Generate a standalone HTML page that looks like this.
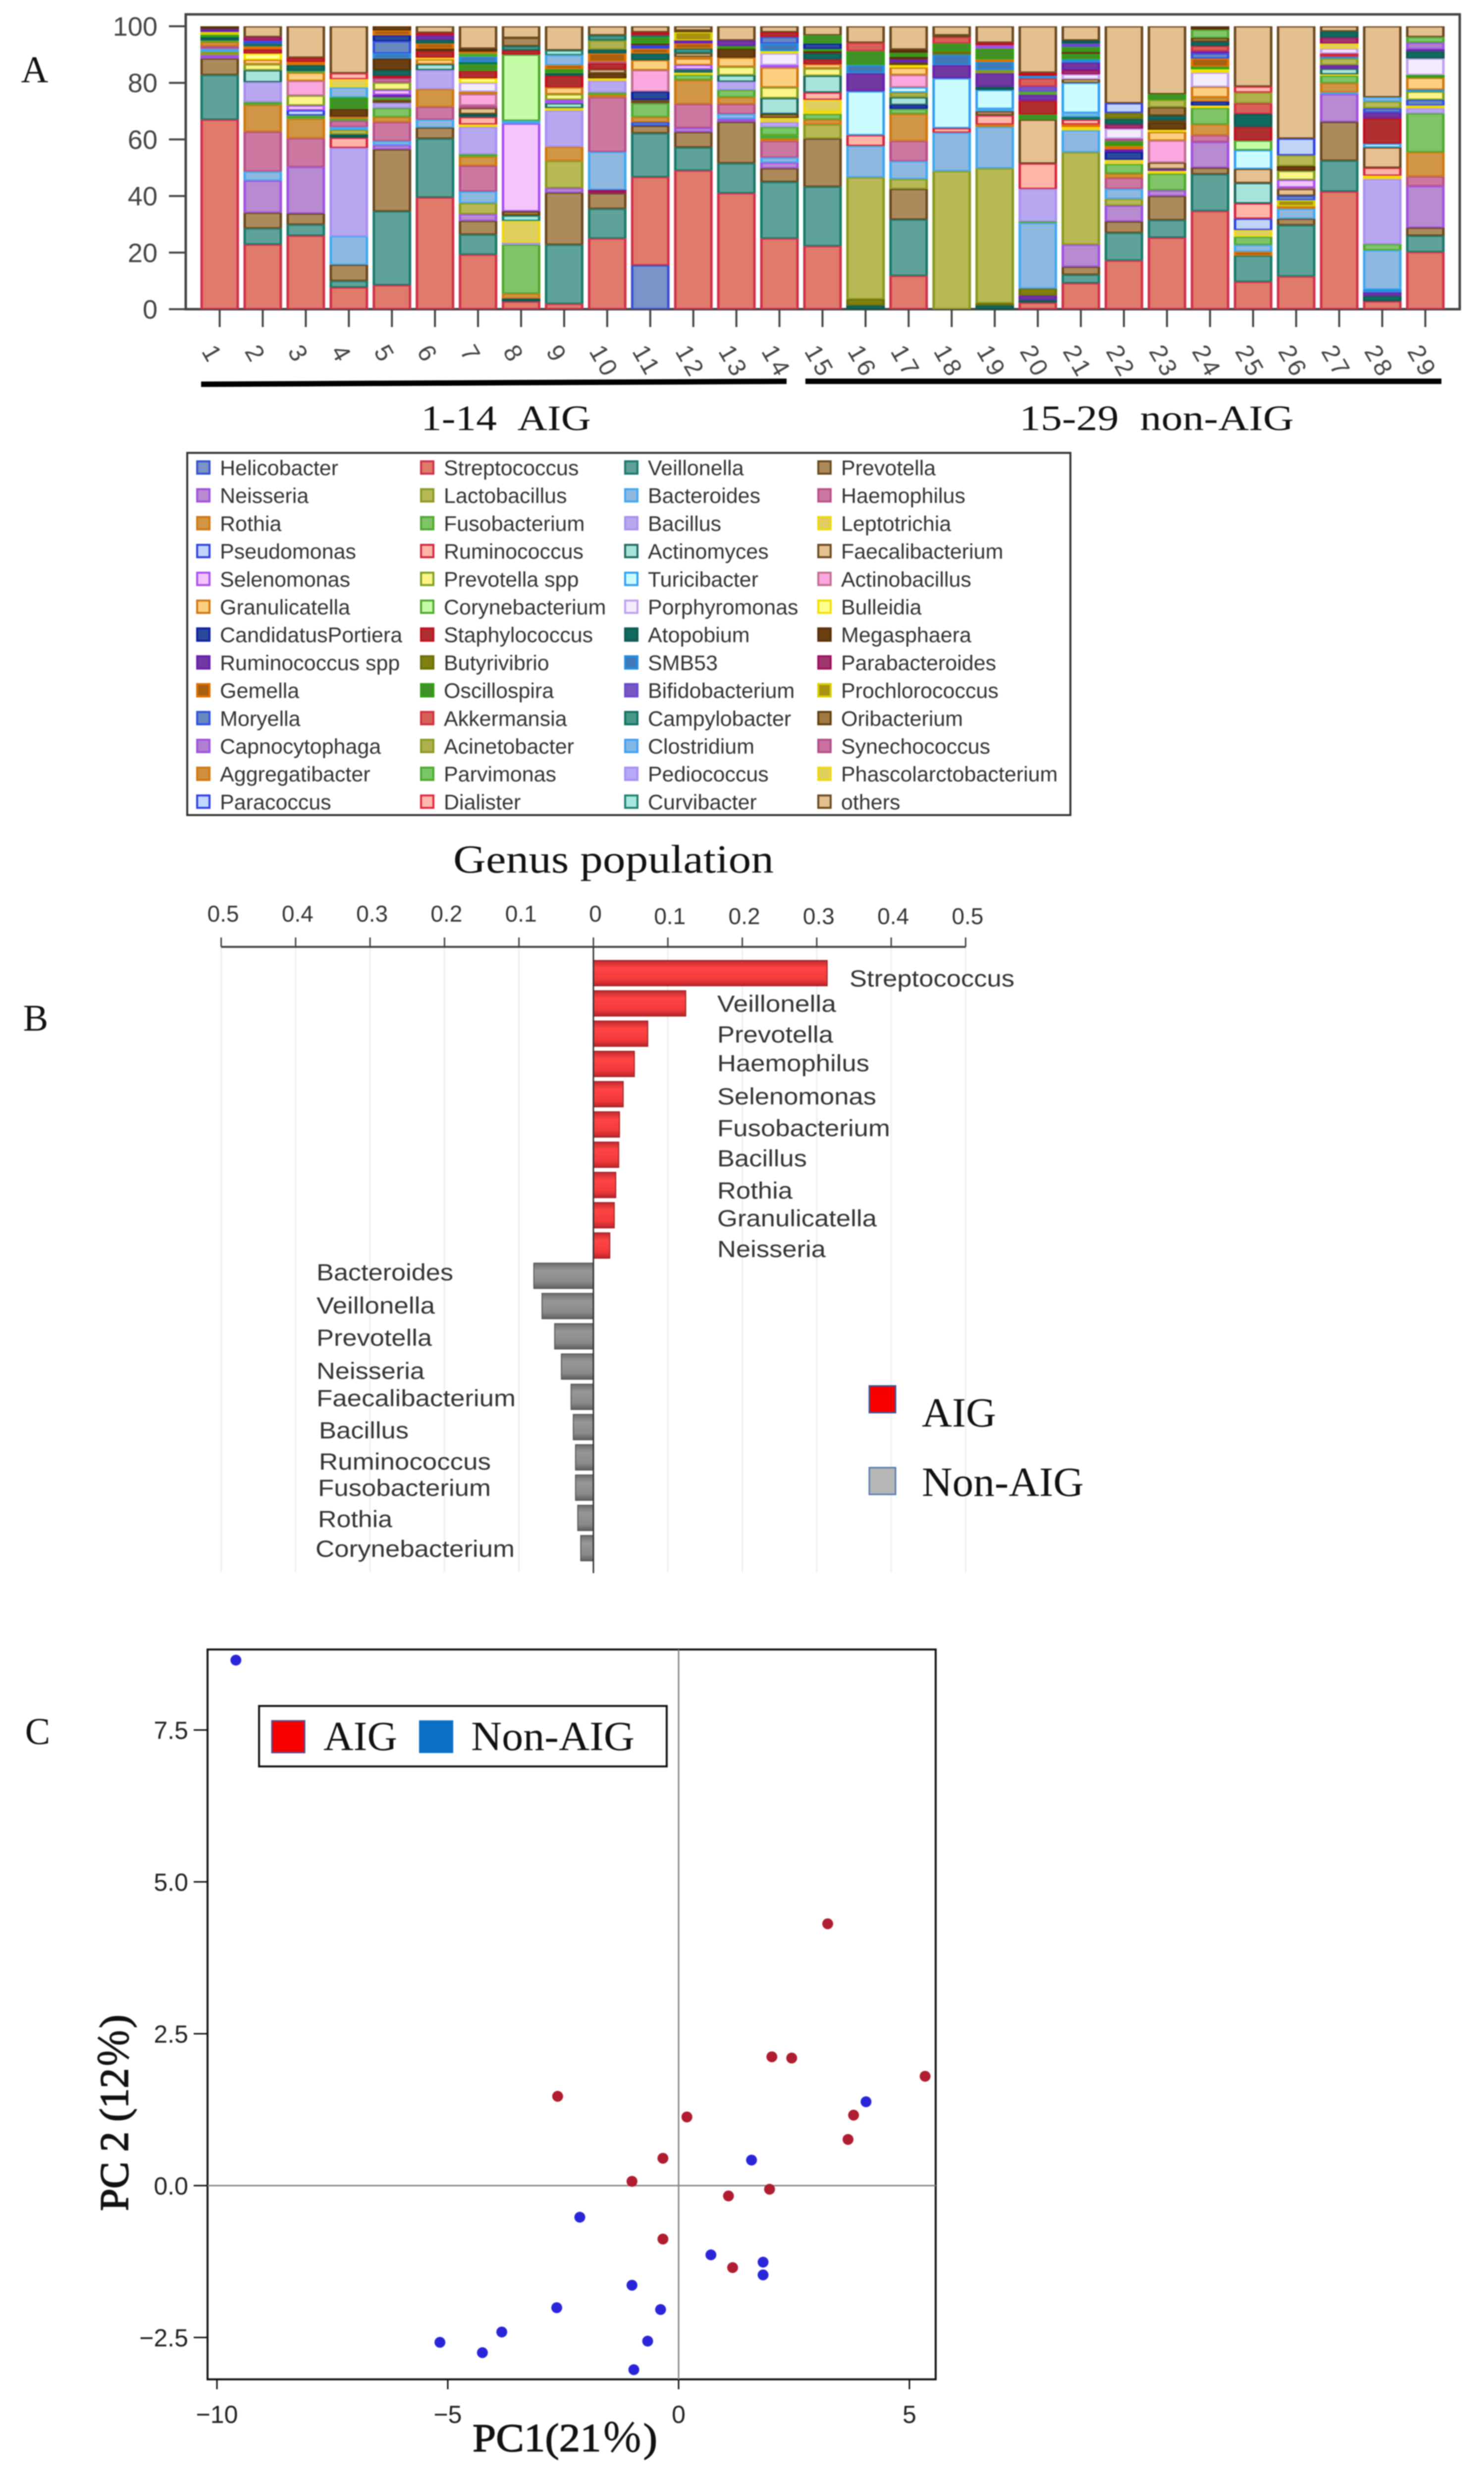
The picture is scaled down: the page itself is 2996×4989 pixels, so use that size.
<!DOCTYPE html>
<html lang="en">
<head>
<meta charset="utf-8">
<title>Genus population, PCA and LDA panels</title>
<style>
html,body{margin:0;padding:0;background:#fff;}
svg{display:block;filter:blur(1px);}
.sans{font-family:"Liberation Sans","Noto Sans CJK JP",sans-serif;}
.serif{font-family:"Liberation Serif","Noto Serif CJK JP",serif;}
</style>
</head>
<body>
<svg id="figure" xmlns="http://www.w3.org/2000/svg" width="2996" height="4989" viewBox="0 0 2996 4989">
  <defs>
    <linearGradient id="redBar" x1="0" y1="0" x2="0" y2="1">
      <stop offset="0" stop-color="#c22a2e"/><stop offset="0.3" stop-color="#ff4444"/><stop offset="0.75" stop-color="#f23a3c"/><stop offset="1" stop-color="#b82428"/>
    </linearGradient>
    <linearGradient id="greyBar" x1="0" y1="0" x2="0" y2="1">
      <stop offset="0" stop-color="#6e6e6e"/><stop offset="0.3" stop-color="#979797"/><stop offset="0.75" stop-color="#8a8a8a"/><stop offset="1" stop-color="#606060"/>
    </linearGradient>
  </defs>
  <rect width="2996" height="4989" fill="#fff"/>

  <text class="serif" x="70" y="166" font-size="76" text-anchor="middle" fill="#111">A</text>
  <text class="serif" x="72" y="2080" font-size="76" text-anchor="middle" fill="#111">B</text>
  <text class="serif" x="76" y="3520" font-size="76" text-anchor="middle" fill="#111">C</text>

  <!-- Panel A -->
  <g id="panelA"></g>
  <polygon points="406,770 1588,764 1588,775 406,781" fill="#000"/>
  <rect x="1626" y="764" width="1284" height="11" fill="#000"/>
  <text class="serif" x="850" y="868" font-size="72" textLength="343" lengthAdjust="spacingAndGlyphs" fill="#111">1-14&#160;&#160;AIG</text>
  <text class="serif" x="2058" y="868" font-size="72" textLength="554" lengthAdjust="spacingAndGlyphs" fill="#111">15-29&#160;&#160;non-AIG</text>

  <rect x="378" y="914" width="1783" height="731" fill="#fff" stroke="#333" stroke-width="4"/>
  <g id="legendA"></g>
  <text class="serif" x="915" y="1761" font-size="80" textLength="647" lengthAdjust="spacingAndGlyphs" fill="#111">Genus population</text>

  <!-- Panel B -->
  <g id="panelB"></g>
  <g class="sans" font-size="47" fill="#333" lengthAdjust="spacingAndGlyphs">
    <text x="1715" y="1991" textLength="333" lengthAdjust="spacingAndGlyphs">Streptococcus</text>
    <text x="1448" y="2042" textLength="240" lengthAdjust="spacingAndGlyphs">Veillonella</text>
    <text x="1448" y="2104" textLength="234" lengthAdjust="spacingAndGlyphs">Prevotella</text>
    <text x="1448" y="2162" textLength="307" lengthAdjust="spacingAndGlyphs">Haemophilus</text>
    <text x="1448" y="2229" textLength="321" lengthAdjust="spacingAndGlyphs">Selenomonas</text>
    <text x="1448" y="2293" textLength="349" lengthAdjust="spacingAndGlyphs">Fusobacterium</text>
    <text x="1448" y="2354" textLength="181" lengthAdjust="spacingAndGlyphs">Bacillus</text>
    <text x="1448" y="2419" textLength="152" lengthAdjust="spacingAndGlyphs">Rothia</text>
    <text x="1448" y="2475" textLength="322" lengthAdjust="spacingAndGlyphs">Granulicatella</text>
    <text x="1448" y="2537" textLength="219" lengthAdjust="spacingAndGlyphs">Neisseria</text>
  </g>
  <g class="sans" font-size="47" fill="#333">
    <text x="639" y="2584" textLength="276" lengthAdjust="spacingAndGlyphs">Bacteroides</text>
    <text x="639" y="2651" textLength="239" lengthAdjust="spacingAndGlyphs">Veillonella</text>
    <text x="639" y="2716" textLength="233" lengthAdjust="spacingAndGlyphs">Prevotella</text>
    <text x="639" y="2783" textLength="218" lengthAdjust="spacingAndGlyphs">Neisseria</text>
    <text x="639" y="2838" textLength="402" lengthAdjust="spacingAndGlyphs">Faecalibacterium</text>
    <text x="644" y="2903" textLength="181" lengthAdjust="spacingAndGlyphs">Bacillus</text>
    <text x="644" y="2966" textLength="347" lengthAdjust="spacingAndGlyphs">Ruminococcus</text>
    <text x="642" y="3019" textLength="349" lengthAdjust="spacingAndGlyphs">Fusobacterium</text>
    <text x="642" y="3082" textLength="150" lengthAdjust="spacingAndGlyphs">Rothia</text>
    <text x="637" y="3142" textLength="402" lengthAdjust="spacingAndGlyphs">Corynebacterium</text>
  </g>
  <rect x="1755" y="2797" width="53" height="54" fill="#f80000" stroke="#3a5a9a" stroke-width="3"/>
  <text class="serif" x="1861" y="2879" font-size="84" textLength="150" lengthAdjust="spacingAndGlyphs" fill="#111">AIG</text>
  <rect x="1755" y="2962" width="53" height="54" fill="#b6b6b6" stroke="#5a7ab0" stroke-width="3"/>
  <text class="serif" x="1861" y="3019" font-size="84" textLength="327" lengthAdjust="spacingAndGlyphs" fill="#111">Non-AIG</text>

  <!-- Panel C -->
  <g id="panelC"></g>
  <rect x="523" y="3443" width="823" height="122" fill="#fff" stroke="#111" stroke-width="4"/>
  <rect x="549" y="3473" width="66" height="64" fill="#f80000" stroke="#5a4a8a" stroke-width="3"/>
  <text class="serif" x="653" y="3532" font-size="84" textLength="149" lengthAdjust="spacingAndGlyphs" fill="#111">AIG</text>
  <rect x="846" y="3472" width="69" height="66" fill="#0a70c8"/>
  <text class="serif" x="951" y="3532" font-size="84" textLength="330" lengthAdjust="spacingAndGlyphs" fill="#111">Non-AIG</text>
  <text class="serif" x="954" y="4947" font-size="80" textLength="373" lengthAdjust="spacingAndGlyphs" fill="#111" stroke="#111" stroke-width="1.5">PC1(21％)</text>
  <text class="serif" transform="translate(258,4462) rotate(-90)" x="0" y="0" font-size="82" textLength="396" lengthAdjust="spacingAndGlyphs" fill="#111" stroke="#111" stroke-width="2">PC 2 (12％)</text>
</svg>

<script>
/* ---------- Panel A data ---------- */
const genera = ["Helicobacter","Streptococcus","Veillonella","Prevotella","Neisseria","Lactobacillus","Bacteroides","Haemophilus","Rothia","Fusobacterium","Bacillus","Leptotrichia","Pseudomonas","Ruminococcus","Actinomyces","Faecalibacterium","Selenomonas","Prevotella spp","Turicibacter","Actinobacillus","Granulicatella","Corynebacterium","Porphyromonas","Bulleidia","CandidatusPortiera","Staphylococcus","Atopobium","Megasphaera","Ruminococcus spp","Butyrivibrio","SMB53","Parabacteroides","Gemella","Oscillospira","Bifidobacterium","Prochlorococcus","Moryella","Akkermansia","Campylobacter","Oribacterium","Capnocytophaga","Acinetobacter","Clostridium","Synechococcus","Aggregatibacter","Parvimonas","Pediococcus","Phascolarctobacterium","Paracoccus","Dialister","Curvibacter","others"];
const genusFill = ["#7a93c8","#e07a6b","#5fa29a","#ad8a5c","#b88ad0","#b8b855","#8fb8e0","#cc78a0","#d19645","#80c468","#b8a8f0","#e0cc60","#c0d4f8","#ffb4a8","#a8e4dc","#e6c090","#f4c4fc","#fbf488","#ccfcff","#fca8e0","#fcd080","#c4fca8","#f4ecfc","#ffff90","#2a4a9c","#b03030","#106a60","#6b4010","#7038a0","#808010","#4078b8","#a03870","#a86010","#409028","#7858c0","#a89010","#6888c0","#d86058","#48988a","#a07a40","#b080d0","#b0b050","#80b8e8","#cc70a0","#d09040","#78c868","#b8a8f8","#e0d060","#c0d8ff","#ffb8b0","#a8e8e0","#e4c090"];
const genusStroke = ["#3a50d0","#d0304a","#1a7a6a","#6b4a20","#a050e0","#8a9a20","#40a8f0","#b8508a","#d07810","#50a830","#a890f0","#f0d810","#3040e0","#d02840","#206a60","#6b4a20","#a850f0","#80a020","#30a0f0","#c07090","#d07810","#50a830","#c0a0f0","#f0e000","#1020a0","#c01020","#0f5a50","#5a3008","#6a20b0","#6a7008","#2090e0","#a01060","#e07000","#30a010","#6848d0","#d8d000","#3050e0","#d03040","#107060","#604010","#a050e0","#8a9a20","#40a0f0","#b0508a","#d07810","#50a830","#a890f0","#f0d810","#3040e0","#e02840","#208070","#6b4a20"];

const yTicksA = [0,20,40,60,80,100];

/* each sample: [genus index, percent] bottom to top */
const sample1 = [[1,67],[2,15.8],[3,5.8],[4,1.2],[5,1.2],[6,1],[7,1],[8,1.4],[9,.6],[26,1.2],[33,.8],[35,1],[28,1],[27,1]];
const sample2 = [[1,22.8],[2,5.7],[3,5.5],[4,11.3],[6,3.2],[7,14],[8,9.5],[9,1],[10,7],[14,4.2],[17,2.1],[20,1.6],[23,2.2],[25,1.5],[32,1],[38,1],[36,1],[31,1.3],[51,3.8]];
const sample3 = [[1,26],[2,3.9],[3,3.9],[4,16.5],[7,10.1],[8,6.9],[9,1.2],[12,1.8],[16,1.7],[17,3.5],[19,5.2],[20,2.9],[21,.6],[26,2.1],[32,1.1],[25,1.5],[51,11.1]];
const sample4 = [[1,7.7],[2,2.3],[3,5.7],[6,10.1],[10,31.2],[13,3.6],[26,1.2],[5,1.6],[6,1],[43,2.2],[9,.7],[8,.7],[27,2.8],[33,4.1],[6,3.5],[47,2.9],[49,2.1],[51,16.6]];
const sample5 = [[1,8.5],[2,26.1],[3,21.9],[4,1.5],[6,1.4],[7,6.7],[8,1.8],[9,3.2],[10,1.8],[15,1.1],[21,.9],[28,.9],[16,1.7],[17,2.6],[43,1.5],[25,.9],[26,2],[27,4.1],[30,1.8],[36,4.3],[24,2.1],[32,1.7],[27,1.5]];
const sample6 = [[1,39.5],[2,20.8],[3,3.9],[6,2.8],[7,4.5],[8,6.3],[10,6.7],[14,2.1],[20,1.7],[47,.6],[25,2.3],[27,.9],[32,1.8],[26,1.4],[28,1.5],[25,.9],[51,2.3]];
const sample7 = [[1,19.3],[2,7.1],[3,4.8],[4,2.4],[5,3.9],[6,4.1],[7,9.1],[8,3.2],[9,.9],[10,9.6],[11,.9],[13,2.6],[26,1.1],[15,2.1],[7,.9],[19,4],[20,.9],[22,3.1],[23,1.6],[25,2.6],[33,2.4],[38,.8],[30,1.8],[9,1.2],[32,.6],[27,1.1],[51,7.9]];
const sample8 = [[1,2.7],[26,1.1],[8,1.7],[9,17.3],[10,.7],[47,7.7],[50,1.9],[39,1.5],[16,31],[6,1],[21,23.4],[25,1.5],[38,1.5],[3,2.9],[51,4.1]];
const sample9 = [[1,1.9],[2,20.9],[3,18.4],[4,1.6],[5,9.6],[8,5],[10,12.8],[11,.9],[14,1.7],[16,1.2],[17,2],[20,2.4],[25,4.1],[26,.9],[33,1.5],[32,1.4],[6,3.5],[50,1.7],[51,8.5]];
const sample10 = [[1,25],[2,10.5],[3,5.5],[31,1.2],[6,13.4],[7,19.3],[8,.9],[9,.8],[10,4.1],[11,.9],[27,1.8],[15,1.4],[25,2.1],[43,.6],[32,2.9],[26,1.4],[41,3.2],[38,1.8],[51,3.2]];
const sample11 = [[0,15.5],[1,31.2],[2,15.5],[3,2.6],[36,1.3],[8,1.8],[9,4.9],[15,1.2],[24,2.9],[19,7.6],[20,3.5],[26,2.4],[32,1.7],[12,1.2],[27,.6],[33,2.3],[38,.6],[25,1.1],[51,2.1]];
const sample12 = [[1,49],[2,8.2],[3,5.4],[4,1.5],[7,8.4],[8,8.5],[9,1.8],[11,.8],[14,1.2],[16,1.5],[20,2.3],[8,.6],[15,1.3],[38,1.6],[32,1.8],[28,1.1],[35,2.9],[39,.6],[51,1.5]];
const sample13 = [[1,41],[2,10.6],[3,14.6],[4,1.1],[6,1.7],[7,3.5],[8,2.4],[9,2.6],[10,2.9],[14,2.3],[17,3],[20,3.2],[27,3.2],[33,.9],[28,2],[51,5]];
const sample14 = [[1,25],[2,20],[3,4.8],[4,2],[6,1.8],[7,5.8],[8,.9],[9,1.2],[45,2.9],[10,1.7],[11,1.5],[39,1.4],[14,5.6],[17,3.8],[20,7],[16,.9],[22,4.1],[23,.8],[30,2.7],[36,2.3],[25,1.7],[51,2.1]];
const sample15 = [[1,22.3],[2,21],[3,17],[5,5],[8,1.7],[9,2],[11,.9],[47,4.1],[13,2.6],[14,5.9],[17,2.6],[20,1.5],[25,1.7],[26,2.1],[27,.8],[33,.8],[24,1.9],[33,2.9],[51,3.2]];
const sample16 = [[26,1.3],[29,2.2],[5,43.1],[6,11.1],[13,3.8],[18,15.5],[28,6.4],[30,2.9],[33,4.9],[37,3],[51,5.8]];
const sample17 = [[1,11.8],[2,19.9],[3,10.8],[5,3.5],[6,6.3],[7,7.1],[8,9.6],[9,1.8],[24,1.4],[14,2.7],[41,1.7],[18,1.8],[19,4.4],[20,2.6],[23,.9],[39,.9],[28,1.1],[27,.9],[33,1.4],[27,1.2],[51,8.2]];
const sample18 = [[5,48.8],[6,13.6],[13,1.6],[18,17.6],[28,4.7],[30,3.7],[29,1.2],[33,2.7],[37,2.3],[39,.6],[51,3.2]];
const sample19 = [[26,1.3],[29,.8],[5,47.7],[6,14.6],[8,.9],[13,3.2],[3,1.5],[6,.8],[18,6.7],[26,1.2],[28,4.7],[41,1.1],[30,2.9],[32,.9],[33,3.8],[40,1.2],[25,.9],[51,5.8]];
const sample20 = [[1,2.3],[26,1],[28,1.5],[29,2.5],[6,23.2],[9,.5],[10,11.5],[13,9],[15,15.5],[33,1.8],[25,4.9],[28,2.1],[45,1.1],[34,1.8],[37,2.9],[30,.9],[25,1.1],[51,16.4]];
const sample21 = [[1,9.2],[2,3],[3,2.8],[4,7.8],[5,32.7],[6,7.7],[11,1.2],[32,.9],[13,1.7],[38,1],[6,1.4],[18,10.6],[15,1.3],[22,1.7],[31,1.5],[28,2.7],[30,1.1],[33,1.9],[39,.8],[33,1.7],[34,1.2],[26,1.1],[51,5]];
const sample22 = [[1,17.2],[2,9.8],[3,4],[4,5.6],[5,2.4],[6,3.5],[7,3.9],[8,1.5],[9,3.4],[11,1.5],[24,2.8],[28,.9],[32,1.2],[33,1.7],[43,.9],[22,3.5],[31,1.5],[26,2],[29,2.1],[12,3.4],[51,27.2]];
const sample23 = [[1,25.3],[2,6.2],[3,8.5],[4,2],[9,5.9],[11,1],[28,.6],[15,2.3],[19,7.8],[20,3],[11,.8],[27,2.6],[39,.8],[26,1.6],[39,3],[5,2.6],[33,2],[51,24]];
const sample24 = [[1,34.7],[2,13],[3,2.3],[4,9.1],[7,2.4],[8,3.8],[9,5.8],[11,.9],[24,1.4],[8,1.5],[20,3.7],[22,5],[23,1.2],[33,.9],[32,2.9],[36,1.8],[28,.8],[37,1.8],[26,1.5],[39,1.4],[9,2.9],[27,1.2]];
const sample25 = [[1,9.7],[2,9.2],[32,1.4],[6,2.4],[9,2.9],[47,2.4],[12,4],[13,5.4],[14,7.2],[15,5],[18,6.6],[21,3.4],[25,4.8],[26,4.6],[37,3.8],[41,3.8],[49,2.1],[51,21.3]];
const sample26 = [[1,11.6],[2,18.1],[3,2.3],[6,3.5],[8,.9],[35,2.1],[36,1.6],[15,2.4],[43,.5],[16,2.7],[17,3.2],[27,1.7],[5,3.8],[12,5.9],[51,39.7]];
const sample27 = [[1,41.6],[2,10.9],[3,13.7],[4,9.8],[6,.6],[8,3.3],[9,2.6],[11,.5],[14,2],[28,1.3],[5,2.3],[30,.6],[13,1.2],[22,1.7],[47,1.8],[31,2.1],[26,2.2],[51,1.8]];
const sample28 = [[1,2.8],[26,1.9],[28,1.3],[30,1],[6,13.8],[9,2.2],[10,23],[47,1.2],[13,2.8],[15,7.2],[18,1.3],[25,9],[28,2],[36,1.5],[5,2.4],[6,1.5],[51,25.1]];
const sample29 = [[1,20.2],[2,5.8],[3,2.8],[4,14.7],[7,3.4],[8,8.6],[9,13.7],[10,1.8],[11,1],[36,2],[17,2.9],[30,.7],[20,4.2],[33,1],[22,5.8],[26,2.6],[28,.7],[40,2.3],[45,2],[51,3.8]];
const samples = [sample1,sample2,sample3,sample4,sample5,sample6,sample7,sample8,sample9,sample10,sample11,sample12,sample13,sample14,sample15,sample16,sample17,sample18,sample19,sample20,sample21,sample22,sample23,sample24,sample25,sample26,sample27,sample28,sample29];

/* ---------- Panel B data ---------- */
const aigGenera = ["Streptococcus","Veillonella","Prevotella","Haemophilus","Selenomonas","Fusobacterium","Bacillus","Rothia","Granulicatella","Neisseria"];
const aigValues = [0.314,0.124,0.073,0.055,0.040,0.035,0.034,0.030,0.028,0.022];
const nonAigGenera = ["Bacteroides","Veillonella","Prevotella","Neisseria","Faecalibacterium","Bacillus","Ruminococcus","Fusobacterium","Rothia","Corynebacterium"];
const nonAigValues = [0.080,0.069,0.052,0.043,0.030,0.027,0.024,0.024,0.021,0.017];
const scoreTicks = [-0.5,-0.4,-0.3,-0.2,-0.1,0,0.1,0.2,0.3,0.4,0.5];

/* ---------- Panel C data ---------- */
const aigPc1 = [-2.62,3.23,2.02,2.45,5.34,3.79,3.67,0.18,-0.34,-1.01,1.08,1.97,-0.34,1.17];
const aigPc2 = [1.47,4.31,2.12,2.10,1.80,1.16,0.76,1.13,0.45,0.07,-0.17,-0.06,-0.88,-1.35];
const nonAigPc1 = [-9.59,4.06,1.58,-2.14,0.70,1.83,1.83,-1.01,-2.64,-0.39,-3.83,-5.17,-4.25,-0.67,-0.97];
const nonAigPc2 = [8.65,1.38,0.42,-0.52,-1.14,-1.26,-1.47,-1.64,-2.01,-2.04,-2.41,-2.58,-2.75,-2.56,-3.03];
const pc1Ticks = [-10,-5,0,5];
const pc2Ticks = [-2.5,0,2.5,5,7.5];

const SVGNS = "http://www.w3.org/2000/svg";
function mk(parent, tag, attrs, text) {
  const el = document.createElementNS(SVGNS, tag);
  for (const k in attrs) el.setAttribute(k, attrs[k]);
  if (text !== undefined) el.textContent = text;
  parent.appendChild(el);
  return el;
}
const SANS = '"Liberation Sans","Noto Sans CJK JP",sans-serif';

/* ---------- Panel A drawing ---------- */
(function () {
  const g = document.getElementById("panelA");
  const yA = v => 624 - v * 5.71;
  const bandA = i => 443.5 + i * 86.93;
  const barW = 78;

  const frame = mk(g, "rect", {x:375,y:29,width:2572,height:595,fill:"#fff",stroke:"#444","stroke-width":5});
  
  

  yTicksA.forEach(t => {
    const tick = mk(g, "line", {x1:341,x2:375,y1:yA(t),y2:yA(t),stroke:"#444","stroke-width":4});
    
    
    const lab = mk(g, "text", {x:318,y:yA(t)+19,"font-size":54,"text-anchor":"end",fill:"#444","font-family":SANS}, String(t));
    
    
  });

  samples.forEach((segs, i) => {
    const cx = bandA(i);
    const tick = mk(g, "line", {x1:cx,x2:cx,y1:624,y2:660,stroke:"#444","stroke-width":4});
    
    
    const lab = mk(g, "text", {transform:`translate(${cx-15},712) rotate(60)`,x:-14,y:18,"font-size":50,fill:"#444","letter-spacing":6,"font-family":SANS}, String(i+1));
    
    

    const total = segs.reduce((s, p) => s + p[1], 0);
    const bar = mk(g, "g", {});
    
    
    let cum = 0;
    segs.forEach(p => {
      const top = yA((cum + p[1]) / total * 100);
      const bottom = yA(cum / total * 100);
      cum += p[1];
      const h = bottom - top;
      const outer = mk(bar, "rect", {x:cx-barW/2,y:top,width:barW,height:h,fill:genusStroke[p[0]]});
      
      
      if (h > 7) {
        const inner = mk(bar, "rect", {x:cx-barW/2+5,y:top+2.5,width:barW-10,height:h-5,fill:genusFill[p[0]]});
        
        
      }
    });
  });

  /* legend */
  const lg = document.getElementById("legendA");
  const legendColumnX = [396,848,1260,1650];
  genera.forEach((name, i) => {
    const row = Math.floor(i / 4), col = i % 4;
    const yc = 944 + row * 56.2;
    const sw = mk(lg, "rect", {x:legendColumnX[col]+2,y:yc-13,width:25,height:25,fill:genusFill[i],stroke:genusStroke[i],"stroke-width":4});
    
    
    const tx = mk(lg, "text", {x:legendColumnX[col]+48,y:yc+15,"font-size":43,fill:"#333","font-family":SANS}, name);
    
    
  });
})();

/* ---------- Panel B drawing ---------- */
(function () {
  const g = document.getElementById("panelB");
  const xB = v => 1198 + v * 1503;
  const bandB = i => 1964 + i * 61.08;
  const barH = 51;

  scoreTicks.forEach((t, i) => {
    const grid = mk(g, "line", {x1:xB(t),x2:xB(t),y1:1911,y2:3173,stroke:"#eeeeee","stroke-width":3});
    
    
    const tick = mk(g, "line", {x1:xB(t),x2:xB(t),y1:1892,y2:1911,stroke:"#444","stroke-width":3});
    
    
    const lab = mk(g, "text", {x:xB(t)+4,y:t>0?1865:1860,"font-size":46,"text-anchor":"middle",fill:"#333","font-family":SANS}, t===0?"0":Math.abs(t).toFixed(1));
    
    
  });
  const axis = mk(g, "line", {x1:xB(-0.5),x2:xB(0.5),y1:1911,y2:1911,stroke:"#444","stroke-width":4});
  
  

  aigValues.forEach((v, i) => {
    const b = mk(g, "rect", {x:xB(0),y:bandB(i)-barH/2,width:xB(v)-xB(0),height:barH,fill:"url(#redBar)",stroke:"#9c1f22","stroke-width":2});
    
    
  });
  nonAigValues.forEach((v, i) => {
    const b = mk(g, "rect", {x:xB(-v),y:bandB(i+10)-barH/2,width:xB(0)-xB(-v),height:barH,fill:"url(#greyBar)",stroke:"#555","stroke-width":2});
    
    
  });
  const zero = mk(g, "line", {x1:xB(0),x2:xB(0),y1:1911,y2:3175,stroke:"#333","stroke-width":3});
  
  
})();

/* ---------- Panel C drawing ---------- */
(function () {
  const g = document.getElementById("panelC");
  const xC = v => 1370 + v * 93.2;
  const yC = v => 4411 - v * 122.6;

  const frame = mk(g, "rect", {x:419,y:3329,width:1470,height:1473,fill:"#fff",stroke:"#111","stroke-width":4});
  
  
  const vz = mk(g, "line", {x1:xC(0),x2:xC(0),y1:3329,y2:4802,stroke:"#888","stroke-width":3});
  
  
  const hz = mk(g, "line", {x1:419,x2:1889,y1:yC(0),y2:yC(0),stroke:"#888","stroke-width":3});
  
  

  pc1Ticks.forEach(t => {
    const tick = mk(g, "line", {x1:xC(t),x2:xC(t),y1:4802,y2:4822,stroke:"#111","stroke-width":3});
    
    
    const lab = mk(g, "text", {x:xC(t),y:4890,"font-size":50,"text-anchor":"middle",fill:"#222","font-family":SANS}, String(t).replace("-","\u2212"));
    
    
  });
  pc2Ticks.forEach(t => {
    const tick = mk(g, "line", {x1:391,x2:419,y1:yC(t),y2:yC(t),stroke:"#111","stroke-width":3});
    
    
    const lab = mk(g, "text", {x:380,y:yC(t)+18,"font-size":50,"text-anchor":"end",fill:"#222","font-family":SANS}, t.toFixed(1).replace("-","\u2212"));
    
    
  });
  aigPc1.forEach((v, i) => {
    const c = mk(g, "circle", {cx:xC(v),cy:yC(aigPc2[i]),r:11,fill:"#b01c30"});
    
    
  });
  nonAigPc1.forEach((v, i) => {
    const c = mk(g, "circle", {cx:xC(v),cy:yC(nonAigPc2[i]),r:11,fill:"#2a25d8"});
    
    
  });
})();
</script>
</body>
</html>
